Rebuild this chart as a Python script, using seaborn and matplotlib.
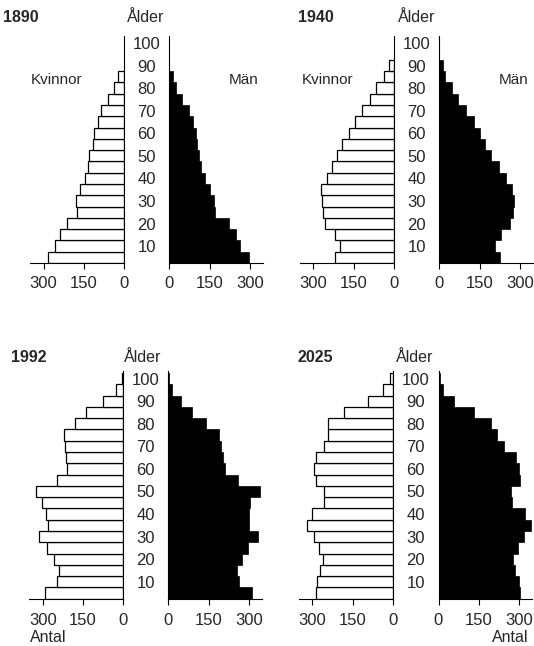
import numpy as np
import pandas as pd
import matplotlib
matplotlib.use("Agg")
import matplotlib.pyplot as plt
import seaborn as sns

# ---- data (thousands, 5-year age groups starting at age 0) ----
years = ["1890", "1940", "1992", "2025"]
age_start = list(range(0, 100, 5))
age_ticks = [10, 20, 30, 40, 50, 60, 70, 80, 90, 100]
x_ticks = [0, 150, 300]

women_1890 = [285, 257, 240, 212, 177, 178, 166, 144, 134, 129, 116, 111, 97, 86, 60, 36, 23]
men_1890 = [296, 265, 250, 221, 171, 165, 152, 134, 119, 111, 103, 99, 90, 74, 49, 24, 15]

women_1940 = [218, 200, 220, 255, 266, 267, 270, 250, 232, 212, 193, 168, 146, 118, 90, 68, 38, 17]
men_1940 = [228, 209, 230, 265, 275, 277, 271, 250, 221, 194, 171, 152, 131, 100, 71, 46, 21, 12]

women_1992 = [294, 248, 239, 260, 285, 315, 281, 289, 305, 325, 246, 211, 213, 219, 223, 182, 140, 77, 27, 5]
men_1992 = [312, 265, 256, 275, 296, 334, 300, 300, 306, 341, 260, 212, 204, 197, 190, 140, 90, 46, 12, 3]

women_2025 = [286, 283, 270, 262, 277, 295, 320, 301, 258, 258, 286, 295, 286, 255, 243, 242, 181, 94, 38, 12]
men_2025 = [304, 300, 287, 279, 296, 319, 344, 321, 275, 272, 304, 300, 291, 244, 219, 196, 131, 56, 16, 4]

women = [women_1890, women_1940, women_1992, women_2025]
men = [men_1890, men_1940, men_1992, men_2025]

# ---- style ----
sns.set_style("white")
plt.rcParams["font.family"] = ["Liberation Sans", "DejaVu Sans"]

W, H = 534, 646
fig = plt.figure(figsize=(W / 100, H / 100), dpi=100)

XMAX = 350
YLIM = (2.5, 103.3)
axw = 93.8
axh = 227.5

# panel layout in pixels: (women right edge, men left edge, axis bottom y from top)
layout = [
    (124.0, 169.3, 263.0),
    (393.8, 439.3, 263.0),
    (123.3, 168.3, 598.7),
    (392.8, 438.5, 598.7),
]
tick_pad = [5.5, 5.5, 6.5, 6.5]

def px_rect(x0, ybot, w, h):
    return [x0 / W, 1 - ybot / H, w / W, h / H]

def style_axis(ax, pad):
    ax.set_ylim(*YLIM)
    ax.set_xticks(x_ticks)
    ax.set_xticklabels([str(t) for t in x_ticks])
    ax.tick_params(axis="x", bottom=True, direction="out", length=4, width=0.8,
                   color="black", labelsize=12, pad=pad)
    ax.set_xlabel("")
    ax.set_ylabel("")
    for s in ax.spines.values():
        s.set_color("black")
        s.set_linewidth(0.8)
    ax.set_facecolor("none")

for i, yr in enumerate(years):
    wr, ml, yb = layout[i]
    dfw = pd.DataFrame({"pos": [a + 5 for a in age_start[:len(women[i])]], "val": women[i]})
    dfm = pd.DataFrame({"pos": [a + 5 for a in age_start[:len(men[i])]], "val": men[i]})

    # women (left)
    axw_ = fig.add_axes(px_rect(wr - axw, yb, axw, axh))
    sns.barplot(data=dfw, x="val", y="pos", orient="h", native_scale=True,
                width=1.0, color="white", edgecolor="black", linewidth=0.9,
                saturation=1, errorbar=None, ax=axw_)
    style_axis(axw_, tick_pad[i])
    axw_.set_xlim(XMAX, 0)
    axw_.spines["left"].set_visible(False)
    axw_.spines["top"].set_visible(False)
    axw_.set_yticks([])

    # men (right)
    axm = fig.add_axes(px_rect(ml, yb, axw, axh))
    sns.barplot(data=dfm, x="val", y="pos", orient="h", native_scale=True,
                width=1.0, color="black", edgecolor="black", linewidth=0.5,
                saturation=1, errorbar=None, ax=axm)
    style_axis(axm, tick_pad[i])
    axm.set_xlim(0, XMAX)
    axm.spines["right"].set_visible(False)
    axm.spines["top"].set_visible(False)
    gap = ml - wr
    axm.set_yticks(age_ticks)
    axm.set_yticklabels([str(a) for a in age_ticks])
    axm.tick_params(axis="y", length=0, labelsize=12, pad=gap / 2 * 72 / 100,
                    left=True)
    for lab in axm.get_yticklabels():
        lab.set_horizontalalignment("center")

# ---- texts ----
def ftext(x, y, s, **kw):
    fig.text(x / W, 1 - y / H, s, **kw)

year_pos = [(3.5, 17), (298, 17), (11.5, 358), (298, 357)]
alder_pos = [(146, 17), (416.5, 17), (143, 358), (414.5, 357)]
for (x, y), yr in zip(year_pos, years):
    ftext(x, y, yr, ha="left", va="center", fontsize=11.5, fontweight="bold")
for (x, y) in alder_pos:
    ftext(x, y, "Ålder", ha="center", va="center", fontsize=11.5)

for x, y in [(57, 80), (327.5, 80)]:
    ftext(x, y, "Kvinnor", ha="center", va="center", fontsize=11)
for x, y in [(244, 80), (514, 80)]:
    ftext(x, y, "Män", ha="center", va="center", fontsize=11)

ftext(48, 638, "Antal", ha="center", va="center", fontsize=11.5)
ftext(510, 638, "Antal", ha="center", va="center", fontsize=11.5)

fig.savefig("out.png", dpi=100)
